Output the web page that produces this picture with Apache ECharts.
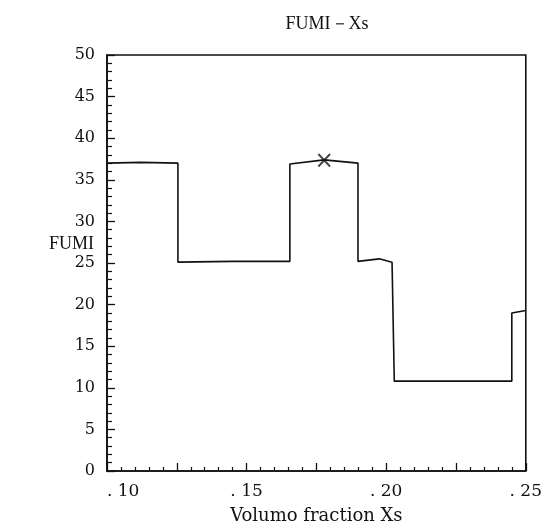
<!DOCTYPE html>
<html>
<head>
<meta charset="utf-8">
<script src="https://cdn.jsdelivr.net/npm/echarts@6/dist/echarts.min.js"></script>
<style>
html,body{margin:0;padding:0;background:#fff;}
#chart{width:545px;height:530px;}
</style>
</head>
<body>
<div id="chart"></div>
<script>
var chartTitle = 'FUMI\uFF0DXs';
var yAxisTitle = 'FUMI';
var xAxisTitle = 'Volumo fraction Xs';
var xTickLabels = ['. 10', '. 15', '. 20', '. 25'];
var xTickValues = [0.10, 0.15, 0.20, 0.25];
var xs = [0.100, 0.112, 0.1254, 0.1254, 0.145, 0.1655, 0.1655, 0.1778, 0.1899, 0.1899, 0.1975, 0.2021, 0.2029, 0.2245, 0.2450, 0.2450, 0.2500];
var ys = [37.0, 37.1, 37.0, 25.1, 25.2, 25.2, 36.9, 37.4, 37.0, 25.2, 25.5, 25.1, 10.8, 10.8, 10.8, 19.0, 19.3];
var optimumX = [0.1778];
var optimumY = [37.35];

var lineData = xs.map(function (x, i) { return [x, ys[i]]; });
var markData = optimumX.map(function (x, i) { return [x, optimumY[i]]; });

var serif = '"Liberation Serif", "DejaVu Serif", serif';
var wide = '"DejaVu Serif", "Liberation Serif", serif';
var chart = echarts.init(document.getElementById('chart'));
chart.setOption({
  animation: false,
  backgroundColor: '#fff',
  title: [
    { text: chartTitle, left: 322, top: 10, textAlign: 'center',
      textStyle: { fontFamily: serif, fontSize: 18, fontWeight: 'normal', color: '#111' } },
    { text: yAxisTitle, left: 44, top: 230,
      textStyle: { fontFamily: serif, fontSize: 18, fontWeight: 'normal', color: '#111' } }
  ],
  grid: { left: 107, right: 18, top: 55, bottom: 59, show: true, borderColor: '#111', borderWidth: 1.6, backgroundColor: 'transparent' },
  xAxis: {
    type: 'value', min: 0.10, max: 0.25, interval: 0.025,
    name: xAxisTitle, nameLocation: 'middle', nameGap: 36,
    nameTextStyle: { fontFamily: wide, fontSize: 18, color: '#111' },
    axisLine: { show: true, lineStyle: { color: '#111', width: 1.6 } },
    axisTick: { show: true, inside: true, length: 8, lineStyle: { color: '#111', width: 1.3 } },
    minorTick: { show: true, splitNumber: 5, length: 4, lineStyle: { color: '#111', width: 1.2 } },
    splitLine: { show: false },
    axisLabel: {
      margin: 12, fontFamily: wide, fontSize: 17, color: '#111',
      alignMinLabel: 'left',
      formatter: function (v) {
        for (var i = 0; i < xTickValues.length; i++) {
          if (Math.abs(v - xTickValues[i]) < 1e-6) return xTickLabels[i];
        }
        return '';
      }
    }
  },
  yAxis: {
    type: 'value', min: 0, max: 50, interval: 5,
    axisLine: { show: true, lineStyle: { color: '#111', width: 1.6 } },
    axisTick: { show: true, inside: true, length: 8, lineStyle: { color: '#111', width: 1.3 } },
    minorTick: { show: true, splitNumber: 5, length: 5, lineStyle: { color: '#111', width: 1.2 } },
    splitLine: { show: false },
    axisLabel: { margin: 12, fontFamily: wide, fontSize: 16, color: '#111' }
  },
  series: [
    {
      type: 'line', data: lineData, showSymbol: false, symbol: 'none',
      lineStyle: { color: '#111', width: 1.6 }
    },
    {
      type: 'scatter', data: markData,
      symbol: 'path://M0,1 L1,0 L5,4 L9,0 L10,1 L6,5 L10,9 L9,10 L5,6 L1,10 L0,9 L4,5 Z',
      symbolSize: [13, 14],
      itemStyle: { color: '#111' }
    }
  ]
});
</script>
</body>
</html>
